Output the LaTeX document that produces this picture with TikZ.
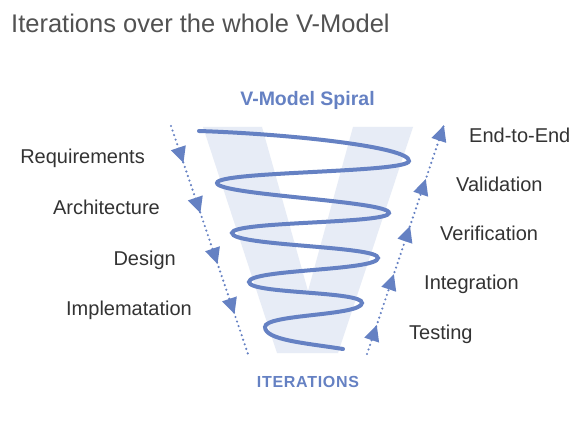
\documentclass[tikz,border=0pt]{standalone}
\usepackage{fontspec}
\setmainfont{Liberation Sans}
\newfontfamily\spacedfont[LetterSpace=4.5]{Liberation Sans}
\usetikzlibrary{arrows.meta,decorations.markings}
\definecolor{vblue}{HTML}{6581C3}
\definecolor{vbg}{HTML}{E7ECF6}
\definecolor{txt}{HTML}{333333}
\tikzset{
  lbl/.style={text=txt, font=\fontsize{20}{24}\selectfont, inner sep=0pt},
  spiralline/.style={draw=vblue, line width=4pt, line cap=round},
  flow/.style={draw=vblue, line width=2.4pt, line cap=round, dash pattern=on 0pt off 4.8pt},
  tip/.tip={Triangle[length=16pt,width=15pt]},
}
\begin{document}
\begin{tikzpicture}[x=1pt,y=-1pt]
\useasboundingbox (0,0) rectangle (573,446);
\fill[white] (0,0) rectangle (573,446);
% title
\node[anchor=base west, inner sep=0pt, text=txt!85!white, font=\fontsize{25.5}{30}\selectfont] (title) at (11,33) {Iterations over the whole V-Model};
% V background
\fill[vbg] (203,127) -- (262,127) -- (308,291) -- (353,127) -- (413,127) -- (338,353) -- (277,353) -- cycle;
% spiral
\draw[spiralline] (199,131) .. controls (290,134) and (410,147) .. (409,161)
 .. controls (408,173) and (217,171) .. (217,183)
 .. controls (217,195) and (390,201) .. (389,213)
 .. controls (388,224) and (232,221) .. (232,233)
 .. controls (232,246) and (379,246) .. (378,258)
 .. controls (377,271) and (249,269) .. (249,282)
 .. controls (249,294) and (363,291) .. (362,303)
 .. controls (361,316) and (265,314) .. (265,327)
 .. controls (265,340) and (305,343) .. (343,349);
% headings
\node[anchor=base, inner sep=0pt, text=vblue, font=\bfseries\fontsize{19.5}{23}\selectfont] (spiraltitle) at (307.5,106) {V-Model Spiral};
\node[anchor=base, inner sep=0pt, text=vblue, font=\spacedfont\bfseries\fontsize{16}{19}\selectfont] (iter) at (308,387) {ITERATIONS};
% dotted flows
\coordinate (ltop) at (171,126);
\coordinate (lbot) at (248,354);
\coordinate (rbot) at (367,354);
\coordinate (rtop) at (444,125);
\draw[flow, postaction={decorate}, decoration={markings,
  mark=at position 0.162 with {\arrow[vblue]{tip}},
  mark=at position 0.382 with {\arrow[vblue]{tip}},
  mark=at position 0.605 with {\arrow[vblue]{tip}},
  mark=at position 0.825 with {\arrow[vblue]{tip}}}]
  (ltop) -- (lbot);
\draw[flow, postaction={decorate}, decoration={markings,
  mark=at position 0.127 with {\arrow[vblue]{tip}},
  mark=at position 0.349 with {\arrow[vblue]{tip}},
  mark=at position 0.559 with {\arrow[vblue]{tip}},
  mark=at position 0.764 with {\arrow[vblue]{tip}},
  mark=at position 0.999 with {\arrow[vblue]{tip}}}]
  (rbot) -- (rtop);
% left labels
\node[lbl, anchor=base east] (req) at (145,164) {Requirements};
\node[lbl, anchor=base east] (arch) at (160,215) {Architecture};
\node[lbl, anchor=base east] (des) at (176,266) {Design};
\node[lbl, anchor=base east] (impl) at (192,316) {Implematation};
% right labels
\node[lbl, anchor=base west] (e2e) at (469,143) {End-to-End};
\node[lbl, anchor=base west] (val) at (456,192) {Validation};
\node[lbl, anchor=base west] (ver) at (440,241) {Verification};
\node[lbl, anchor=base west] (integ) at (424,290) {Integration};
\node[lbl, anchor=base west] (test) at (409,340) {Testing};
\end{tikzpicture}
\end{document}
